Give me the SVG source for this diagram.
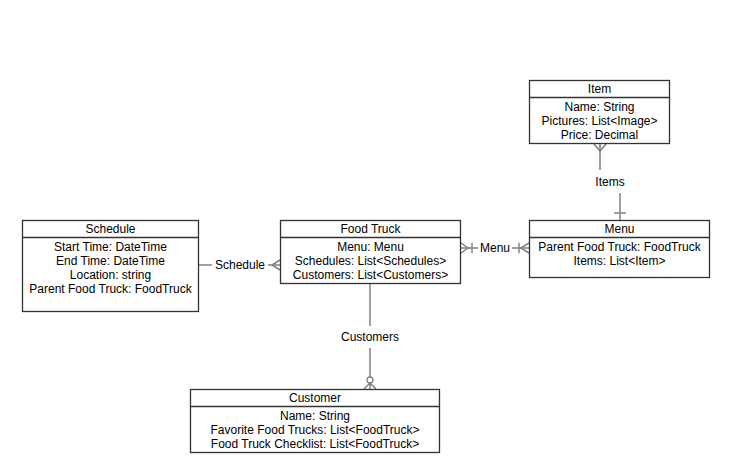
<svg xmlns="http://www.w3.org/2000/svg" width="732" height="476" viewBox="0 0 732 476">
<style>
.box{fill:#fff;stroke:#333;stroke-width:1.3}
.hd{stroke:#333;stroke-width:1.3}
.t{font-family:"Liberation Sans",Arial,sans-serif;font-size:12px;fill:#000;text-anchor:middle}
.c{fill:none;stroke:#808080;stroke-width:1.5}
</style>
<rect width="732" height="476" fill="#fff"/>
<g id="connectors">
  <!-- Items -->
  <path class="c" d="M600,143 V170"/>
  <path class="c" d="M594,144 L600,151 L606,144"/>
  <path class="c" d="M620,193 V220"/>
  <path class="c" d="M614,213 H626"/>
  <text class="t" x="610" y="186">Items</text>
  <!-- Menu -->
  <path class="c" d="M461,248 H478"/>
  <path class="c" d="M461,243 L468,248 L461,253"/>
  <path class="c" d="M472,243 V253"/>
  <path class="c" d="M512,248 H529"/>
  <path class="c" d="M529,243 L521,248 L529,253"/>
  <path class="c" d="M519,243 V253"/>
  <text class="t" x="495" y="252">Menu</text>
  <!-- Schedule -->
  <path class="c" d="M199,265 H212"/>
  <path class="c" d="M268,265 H280"/>
  <path class="c" d="M280,260 L272,265 L280,270"/>
  <text class="t" x="240" y="269">Schedule</text>
  <!-- Customers -->
  <path class="c" d="M370,284 V326"/>
  <path class="c" d="M370,348 V377"/>
  <circle cx="370" cy="380" r="3" fill="#fff" stroke="#808080" stroke-width="1.3"/>
  <path class="c" d="M364,389 L370,383 L376,389 M370,383 V389"/>
  <text class="t" x="370" y="341">Customers</text>
</g>
<g id="item">
  <rect class="box" x="529.5" y="80.5" width="140" height="63"/>
  <line class="hd" x1="529.5" y1="97.5" x2="669.5" y2="97.5"/>
  <text class="t" x="599.5" y="93">Item</text>
  <text class="t" x="599.5" y="111">Name: String</text>
  <text class="t" x="599.5" y="125">Pictures: List&lt;Image&gt;</text>
  <text class="t" x="599.5" y="139">Price: Decimal</text>
</g>
<g id="foodtruck">
  <rect class="box" x="280.5" y="220.5" width="180" height="63"/>
  <line class="hd" x1="280.5" y1="237.5" x2="460.5" y2="237.5"/>
  <text class="t" x="370.5" y="233">Food Truck</text>
  <text class="t" x="370.5" y="251">Menu: Menu</text>
  <text class="t" x="370.5" y="265">Schedules: List&lt;Schedules&gt;</text>
  <text class="t" x="370.5" y="279">Customers: List&lt;Customers&gt;</text>
</g>
<g id="schedule">
  <rect class="box" x="22.5" y="220.5" width="176" height="91"/>
  <line class="hd" x1="22.5" y1="237.5" x2="198.5" y2="237.5"/>
  <text class="t" x="110.5" y="233">Schedule</text>
  <text class="t" x="110.5" y="251">Start Time: DateTime</text>
  <text class="t" x="110.5" y="265">End Time: DateTime</text>
  <text class="t" x="110.5" y="279">Location: string</text>
  <text class="t" x="110.5" y="293">Parent Food Truck: FoodTruck</text>
</g>
<g id="menu">
  <rect class="box" x="529.5" y="220.5" width="180" height="57"/>
  <line class="hd" x1="529.5" y1="237.5" x2="709.5" y2="237.5"/>
  <text class="t" x="619.5" y="233">Menu</text>
  <text class="t" x="619.5" y="251">Parent Food Truck: FoodTruck</text>
  <text class="t" x="619.5" y="265">Items: List&lt;Item&gt;</text>
</g>
<g id="customer">
  <rect class="box" x="190.5" y="389.5" width="249" height="63"/>
  <line class="hd" x1="190.5" y1="406.5" x2="439.5" y2="406.5"/>
  <text class="t" x="315" y="402">Customer</text>
  <text class="t" x="315" y="420">Name: String</text>
  <text class="t" x="315" y="434">Favorite Food Trucks: List&lt;FoodTruck&gt;</text>
  <text class="t" x="315" y="448">Food Truck Checklist: List&lt;FoodTruck&gt;</text>
</g>
</svg>
